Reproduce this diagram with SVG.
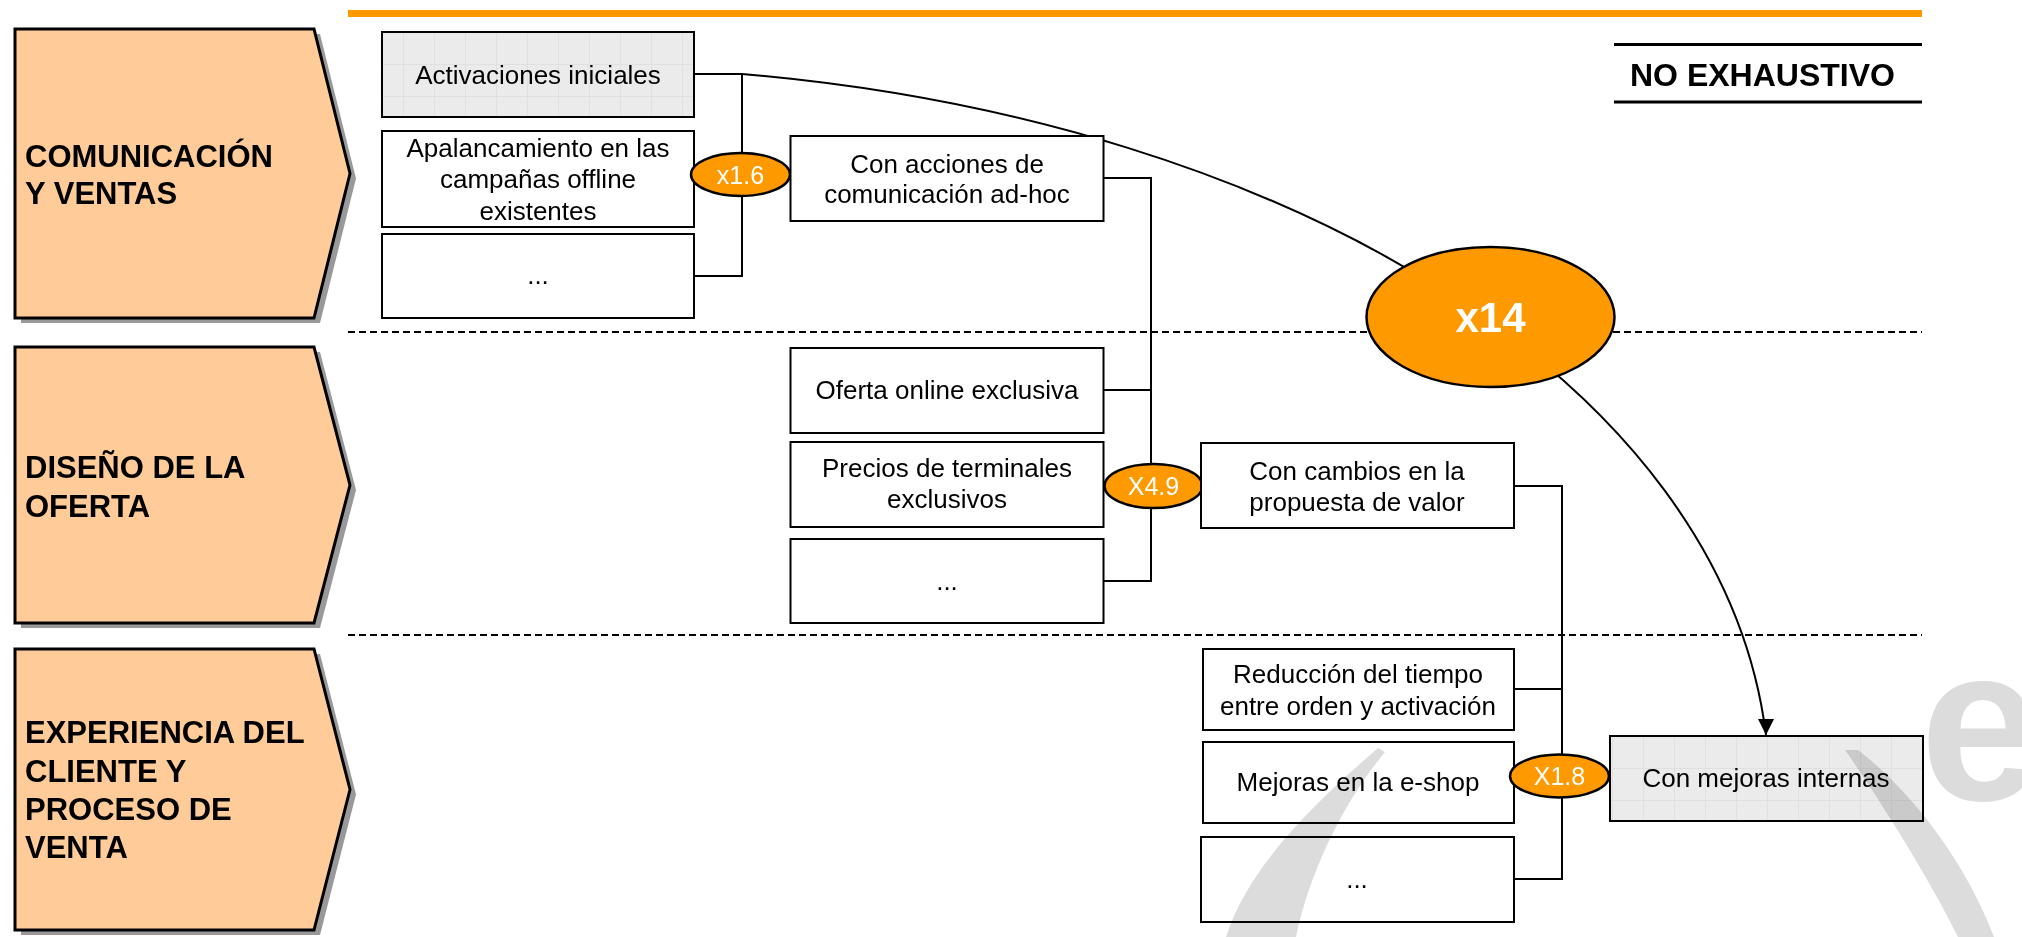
<svg xmlns="http://www.w3.org/2000/svg" width="2022" height="937" viewBox="0 0 2022 937">
<defs>
<style>
.chev{fill:#FFCC99;stroke:#000;stroke-width:3;stroke-linejoin:miter}
.shadow{fill:#999999}
.ct{font-family:"Liberation Sans",Arial,sans-serif;font-weight:bold;font-size:31px;fill:#000}
.box{fill:#ffffff;stroke:#000;stroke-width:2}
.gbox{fill:url(#grid);stroke:#000;stroke-width:2}
.t{font-family:"Liberation Sans",Arial,sans-serif;font-size:26px;fill:#000;text-anchor:middle}
.ell{fill:#FF9900;stroke:#000;stroke-width:2.5}
.et{font-family:"Liberation Sans",Arial,sans-serif;font-size:25px;fill:#fff;text-anchor:middle}
.line{fill:none;stroke:#000;stroke-width:2}
.dash{fill:none;stroke:#000;stroke-width:2;stroke-dasharray:7 4}
.wm{fill:#DCDCDC;mix-blend-mode:multiply}
</style>
<pattern id="grid" x="0" y="0" width="31" height="32" patternUnits="userSpaceOnUse">
<rect width="31" height="32" fill="#EBEBEB"/>
<path d="M0.5,0V32M0,0.5H31" stroke="#E0E0E0" stroke-width="1" fill="none"/>
</pattern>
<marker id="arrow" viewBox="0 0 16 16" refX="16" refY="8" markerWidth="16" markerHeight="16" markerUnits="userSpaceOnUse" orient="90">
<path d="M0,0L16,8L0,16Z" fill="#000"/>
</marker>
</defs>
<rect width="2022" height="937" fill="#ffffff"/>

<g id="header">
<rect x="348" y="10" width="1574" height="7" fill="#FF9900"/>
<line x1="1614" y1="44.5" x2="1922" y2="44.5" stroke="#000" stroke-width="3"/>
<line x1="1614" y1="102" x2="1922" y2="102" stroke="#000" stroke-width="3"/>
<text x="1630" y="86" class="ct" style="font-size:32px">NO EXHAUSTIVO</text>
<line x1="348" y1="332" x2="1922" y2="332" class="dash"/>
<line x1="348" y1="635" x2="1922" y2="635" class="dash"/>
</g>

<g id="chevron-comunicacion">
<polygon class="shadow" points="21,34 320,34 356,178.5 320,323 21,323"/>
<polygon class="chev" points="15,29 314,29 350,173.5 314,318 15,318"/>
<text class="ct" x="25" y="167">COMUNICACIÓN</text>
<text class="ct" x="25" y="204">Y VENTAS</text>
</g>
<g id="chevron-oferta">
<polygon class="shadow" points="21,352 320,352 356,490 320,628 21,628"/>
<polygon class="chev" points="15,347 314,347 350,485 314,623 15,623"/>
<text class="ct" x="25" y="478">DISEÑO DE LA</text>
<text class="ct" x="25" y="517">OFERTA</text>
</g>
<g id="chevron-experiencia">
<polygon class="shadow" points="21,654 320,654 356,794.5 320,935 21,935"/>
<polygon class="chev" points="15,649 314,649 350,789.5 314,930 15,930"/>
<text class="ct" x="25" y="743">EXPERIENCIA DEL</text>
<text class="ct" x="25" y="782">CLIENTE Y</text>
<text class="ct" x="25" y="820">PROCESO DE</text>
<text class="ct" x="25" y="858">VENTA</text>
</g>

<g id="connectors">
<path class="line" d="M694,74H742V276H694"/>
<path class="line" d="M1103.5,178H1151V581H1103.5M1103.5,390H1151"/>
<path class="line" d="M1514,486H1562V879H1514M1514,689H1562"/>
<path class="line" d="M742,74C1292,121 1722,385 1766,735" marker-end="url(#arrow)"/>
</g>

<g id="n-activaciones">
<rect class="gbox" x="382" y="32" width="312" height="85"/>
<text class="t" x="538" y="84">Activaciones iniciales</text>
</g>
<g id="n-apalancamiento">
<rect class="box" x="382" y="131" width="312" height="96"/>
<text class="t" x="538" y="157">Apalancamiento en las</text>
<text class="t" x="538" y="188">campañas offline</text>
<text class="t" x="538" y="220">existentes</text>
</g>
<g id="n-etc1">
<rect class="box" x="382" y="234" width="312" height="84"/>
<text class="t" x="538" y="284">...</text>
</g>
<g id="n-x16">
<ellipse class="ell" cx="740.5" cy="174.5" rx="49.5" ry="21.5"/>
<text class="et" x="740.5" y="184">x1.6</text>
</g>
<g id="n-acciones">
<rect class="box" x="790.5" y="136" width="313" height="85"/>
<text class="t" x="947" y="173">Con acciones de</text>
<text class="t" x="947" y="203">comunicación ad-hoc</text>
</g>
<g id="n-oferta-online">
<rect class="box" x="790.5" y="348" width="313" height="85"/>
<text class="t" x="947" y="399">Oferta online exclusiva</text>
</g>
<g id="n-precios">
<rect class="box" x="790.5" y="442" width="313" height="85"/>
<text class="t" x="947" y="477">Precios de terminales</text>
<text class="t" x="947" y="508">exclusivos</text>
</g>
<g id="n-etc2">
<rect class="box" x="790.5" y="539" width="313" height="84"/>
<text class="t" x="947" y="590">...</text>
</g>
<g id="n-x49">
<ellipse class="ell" cx="1153.5" cy="486" rx="49" ry="22"/>
<text class="et" x="1153.5" y="495">X4.9</text>
</g>
<g id="n-cambios">
<rect class="box" x="1201" y="443" width="313" height="85"/>
<text class="t" x="1357" y="480">Con cambios en la</text>
<text class="t" x="1357" y="511">propuesta de valor</text>
</g>
<g id="n-reduccion">
<rect class="box" x="1203" y="649" width="311" height="81"/>
<text class="t" x="1358" y="683">Reducción del tiempo</text>
<text class="t" x="1358" y="715">entre orden y activación</text>
</g>
<g id="n-eshop">
<rect class="box" x="1203" y="742" width="311" height="81"/>
<text class="t" x="1358" y="791">Mejoras en la e-shop</text>
</g>
<g id="n-etc3">
<rect class="box" x="1201" y="837" width="313" height="85"/>
<text class="t" x="1357" y="888">...</text>
</g>
<g id="n-x18">
<ellipse class="ell" cx="1559.5" cy="776" rx="49.5" ry="21.5"/>
<text class="et" x="1559.5" y="785">X1.8</text>
</g>
<g id="n-internas">
<rect class="gbox" x="1610" y="736" width="313" height="85"/>
<text class="t" x="1766" y="787">Con mejoras internas</text>
</g>
<g id="n-x14">
<ellipse class="ell" cx="1490.5" cy="317" rx="124" ry="70"/>
<text class="et" x="1490.5" y="332" style="font-size:42px;font-weight:bold">x14</text>
</g>

<g id="watermark">
<path class="wm" d="M1378,748C1330,790 1250,860 1226,937L1296,937C1310,870 1345,800 1385,752Z"/>
<path class="wm" d="M1845,750C1880,800 1930,880 1958,937L1994,937C1965,860 1910,790 1858,750Z"/>
<text class="wm" x="1920" y="800" style="font-family:'Liberation Sans',Arial,sans-serif;font-weight:bold;font-size:220px">e</text>
</g>
</svg>
